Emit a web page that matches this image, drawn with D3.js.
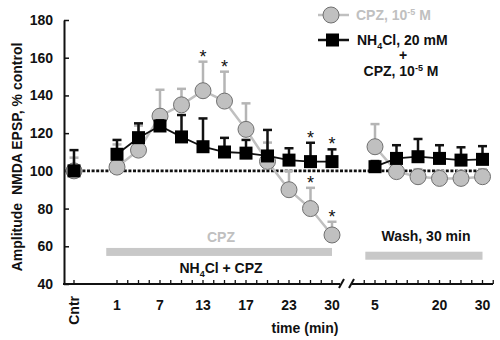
<!DOCTYPE html>
<html><head><meta charset="utf-8">
<script src="https://cdn.jsdelivr.net/npm/d3@7"></script>
<style>
body{margin:0;background:#fff;}
svg{display:block;font-family:"Liberation Sans",Arial,sans-serif;font-weight:bold;}
</style></head>
<body><svg id="c" width="500" height="340"></svg>
<script>
// x slot of each measurement (Cntr, 11 treatment points, 6 wash points)
const slots   = [0, 2,3,4,5,6,7,8,9,10,11,12, 14,15,16,17,18,19];
const cpzMean = [100, 102,111,129,135,142.5,137,122,105,90,80,66, 112.8,99.6,96.9,96,96,96.9];
const cpzErr  = [7, 12,13,14,8.5,15.4,15.6,13.8,10,10,11,7, 12,4,4,4,4,4];
const nhMean  = [100, 108.8,117.6,123.8,118,112.8,110,109.4,107.9,105.7,104.9,104.9, 102.2,106.6,107.5,106.6,105.7,106.1];
const nhErr   = [11, 7.6,7.6,3,11.6,15,7.5,7,13.8,6.3,10,6.5, 3,7,9.4,7,6.8,7];
const cpzStarSlots = [6,7,11,12];
const nhStarSlots  = [11,12];
const tickSlots  = [0,2,4,6,8,10,12,14,17,19];
const tickLabels = ["Cntr","1","7","13","17","23","30","5","20","30"];
const yTicks = [40,60,80,100,120,140,160,180];
const baseline = 100;
const barFrom  = [1.5, 13.55];
const barTo    = [12, 19];
const barLevel = [57, 55];

const svg = d3.select("#c");
const x = d3.scaleLinear().domain([0,19]).range([74,482.5]);
const y = d3.scaleLinear().domain([40,180]).range([284,20]);
const GRAY = "#c0c0c0", GRAYE = "#b5b5b5", INK = "#111";

// Y axis
const ya = svg.append("g").attr("transform","translate(64,0)")
  .call(d3.axisLeft(y).tickValues(yTicks).tickSizeInner(-5).tickSizeOuter(0).tickPadding(11));
ya.select(".domain").attr("stroke",INK).attr("stroke-width",2);
ya.selectAll(".tick line").attr("stroke",INK).attr("stroke-width",1.5);
ya.selectAll(".tick text").attr("font-size",14).attr("font-weight","bold").attr("font-family","Liberation Sans, Arial, sans-serif").attr("fill",INK);

// X axis with break
const y0 = y(40);
const seg1 = [[63, y0],[340, y0]], seg2 = [[352, y0],[493, y0]];
[seg1, seg2].forEach(s => svg.append("line").attr("x1",s[0][0]).attr("x2",s[1][0]).attr("y1",y0).attr("y2",y0).attr("stroke",INK).attr("stroke-width",2));
[[339,344],[349,354]].forEach(p => svg.append("line").attr("x1",p[0]).attr("y1",y0+4).attr("x2",p[1]).attr("y2",y0-5).attr("stroke",INK).attr("stroke-width",2));
const minor = [0].concat(d3.range(2,12.01,0.5)).concat(d3.range(13.5,19.51,0.5));
svg.append("g").selectAll("line").data(minor).join("line")
  .attr("x1",d=>x(d)).attr("x2",d=>x(d)).attr("y1",y0).attr("y2",y0-4)
  .attr("stroke",INK).attr("stroke-width",1.3);
tickSlots.forEach((s,i) => {
  if (tickLabels[i] === "Cntr") {
    svg.append("text").attr("transform",`translate(${x(s)+5},296) rotate(-90)`)
      .attr("text-anchor","end").attr("font-size",14).attr("fill",INK).text("Cntr");
  } else {
    svg.append("text").attr("x",x(s)).attr("y",310).attr("text-anchor","middle")
      .attr("font-size",14).attr("fill",INK).text(tickLabels[i]);
  }
});
svg.append("text").attr("x",305).attr("y",333).attr("text-anchor","middle").attr("font-size",14).attr("fill",INK).text("time (min)");
svg.append("text").attr("transform","translate(22,157) rotate(-90)").attr("text-anchor","middle")
  .attr("font-size",14).attr("fill",INK).attr("xml:space","preserve").text("Amplitude  NMDA EPSP, % control");

// treatment bars
barFrom.forEach((f,i) => svg.append("rect").attr("x",x(f)).attr("width",x(barTo[i])-x(f))
  .attr("y",y(barLevel[i])-4).attr("height",8).attr("fill","#c8c8c8"));
svg.append("text").attr("x",221).attr("y",242).attr("text-anchor","middle").attr("font-size",14).attr("fill",GRAY).text("CPZ");
const t2 = svg.append("text").attr("x",221).attr("y",273).attr("text-anchor","middle").attr("font-size",14).attr("fill",INK);
t2.append("tspan").text("NH");
t2.append("tspan").attr("font-size",9).attr("dy",4).text("4");
t2.append("tspan").attr("dy",-4).text("Cl + CPZ");
svg.append("text").attr("x",426).attr("y",241).attr("text-anchor","middle").attr("font-size",14).attr("fill",INK).text("Wash, 30 min");

// baseline dotted line
svg.append("line").attr("x1",64).attr("x2",488).attr("y1",y(baseline)).attr("y2",y(baseline))
  .attr("stroke",INK).attr("stroke-width",2.6).attr("stroke-dasharray","3,1.6");

// data helpers
function rows(mean, err){ return slots.map((s,i)=>({s, v:mean[i], e:err[i]})); }
function segments(data){
  const out=[]; let cur=[];
  data.forEach((d,i)=>{ if(i>0 && d.s - data[i-1].s > 1){ out.push(cur); cur=[]; } cur.push(d); });
  out.push(cur); return out;
}
const line = d3.line().x(d=>x(d.s)).y(d=>y(d.v));
function drawSeries(data, col, ecol, lw){
  const g = svg.append("g");
  segments(data).forEach(sg => { if(sg.length>1) g.append("path").attr("d",line(sg)).attr("fill","none").attr("stroke",col).attr("stroke-width",lw); });
  const eb = g.append("g").selectAll("g").data(data).join("g");
  eb.append("line").attr("x1",d=>x(d.s)).attr("x2",d=>x(d.s)).attr("y1",d=>y(d.v)).attr("y2",d=>y(d.v+d.e)).attr("stroke",ecol).attr("stroke-width",2.5);
  eb.append("line").attr("x1",d=>x(d.s)-4.5).attr("x2",d=>x(d.s)+4.5).attr("y1",d=>y(d.v+d.e)).attr("y2",d=>y(d.v+d.e)).attr("stroke",ecol).attr("stroke-width",2.5);
  return g;
}
const cpz = rows(cpzMean, cpzErr), nh = rows(nhMean, nhErr);
const gc = drawSeries(cpz, GRAY, GRAYE, 2.5);
gc.selectAll("circle").data(cpz).join("circle").attr("cx",d=>x(d.s)).attr("cy",d=>y(d.v)).attr("r",8)
  .attr("fill",GRAY).attr("stroke","#707070").attr("stroke-width",1);
const gn = drawSeries(nh, INK, INK, 1.8);
gn.selectAll("rect").data(nh).join("rect").attr("x",d=>x(d.s)-6.5).attr("y",d=>y(d.v)-6.5).attr("width",13).attr("height",13).attr("fill","#000");

// significance stars
function stars(data, list){
  svg.append("g").selectAll("text").data(data.filter(d=>list.includes(d.s))).join("text")
    .attr("x",d=>x(d.s)).attr("y",d=>y(d.v+d.e)+1).attr("text-anchor","middle").attr("font-size",18).attr("font-weight","normal").attr("fill",INK).text("*");
}
stars(cpz, cpzStarSlots); stars(nh, nhStarSlots);

// legend
const lg = svg.append("g");
lg.append("line").attr("x1",318).attr("x2",349).attr("y1",15).attr("y2",15).attr("stroke",GRAY).attr("stroke-width",2.5);
lg.append("circle").attr("cx",331).attr("cy",15).attr("r",8).attr("fill",GRAY).attr("stroke","#707070");
const l1 = lg.append("text").attr("x",356).attr("y",20).attr("font-size",14).attr("fill",GRAY);
l1.append("tspan").text("CPZ, 10");
l1.append("tspan").attr("font-size",9).attr("dy",-5).text("-5");
l1.append("tspan").attr("dy",5).text(" M");
lg.append("line").attr("x1",318).attr("x2",349).attr("y1",40).attr("y2",40).attr("stroke",INK).attr("stroke-width",2.5);
lg.append("rect").attr("x",326).attr("y",33.5).attr("width",13).attr("height",13).attr("fill","#000");
const l2 = lg.append("text").attr("x",357).attr("y",45).attr("font-size",14).attr("fill",INK);
l2.append("tspan").text("NH");
l2.append("tspan").attr("font-size",9).attr("dy",4).text("4");
l2.append("tspan").attr("dy",-4).text("Cl, 20 mM");
lg.append("text").attr("x",403).attr("y",60).attr("text-anchor","middle").attr("font-size",14).attr("fill",INK).text("+");
const l3 = lg.append("text").attr("x",401).attr("y",76).attr("text-anchor","middle").attr("font-size",14).attr("fill",INK);
l3.append("tspan").text("CPZ, 10");
l3.append("tspan").attr("font-size",9).attr("dy",-5).text("-5");
l3.append("tspan").attr("dy",5).text(" M");
</script></body></html>
